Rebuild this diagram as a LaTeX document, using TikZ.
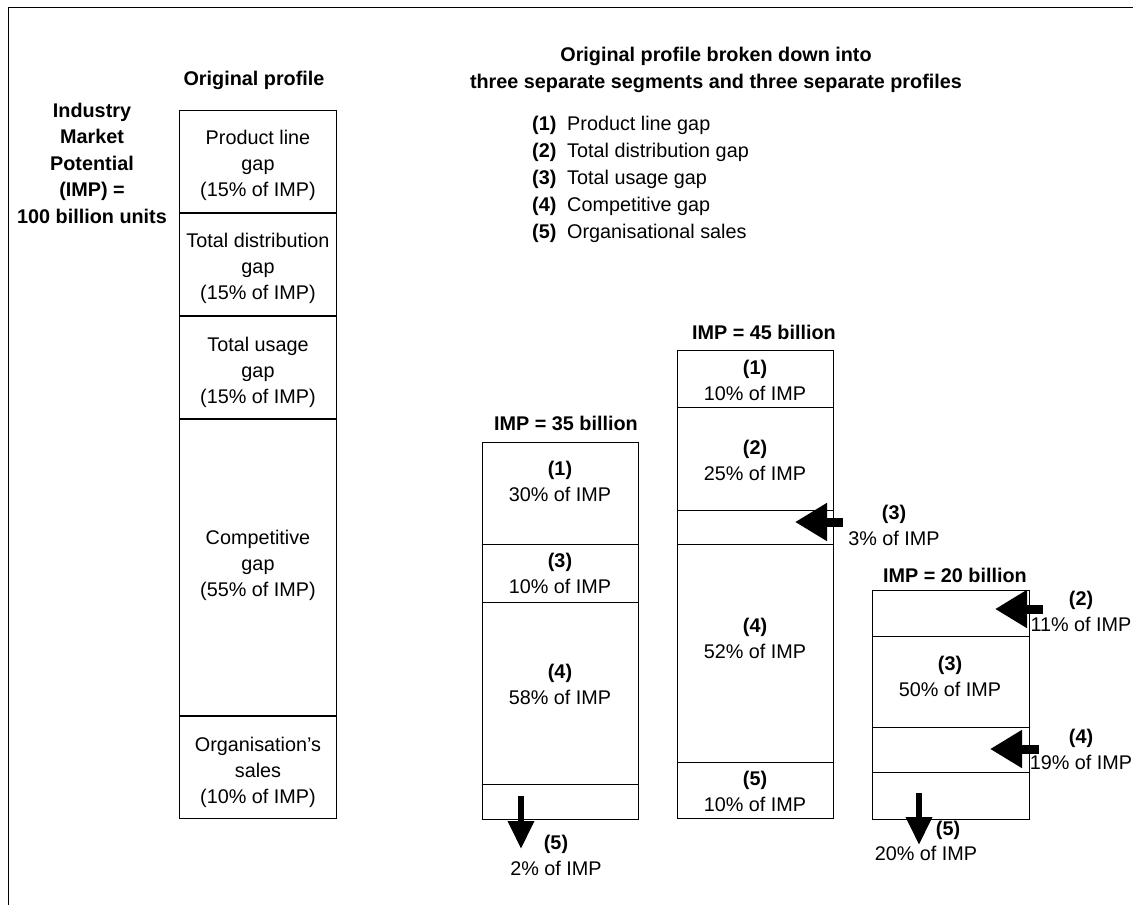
\documentclass[tikz,border=0pt]{standalone}
\usepackage{fontspec}
\setmainfont{Liberation Sans}
\usetikzlibrary{arrows.meta}
\tikzset{
    seg/.style={draw, line width=1pt},
    txt/.style={align=center, inner sep=0pt, font=\fontsize{19.8}{26}\selectfont},
    bold/.style={txt, font=\fontsize{19.8}{26.5}\selectfont\bfseries},
    sidearrow/.style={line width=9pt, -{Triangle[length=32pt 0 0,width=36pt 0 0]}},
    downarrow/.style={line width=6.5pt, -{Triangle[length=28pt 0 0,width=25pt 0 0]}}
}
\begin{document}
\begin{tikzpicture}[x=1pt, y=-1pt]
    \useasboundingbox (0,0) rectangle (1133,905);
    % Frame
    \draw[line width=1pt] (8,905) -- (8,7) -- (1133,7);

    % Headings
    \node[bold] (imptotal) at (92,163) {Industry\\Market\\Potential\\(IMP) =\\100 billion units};
    \node[bold] (orighead) at (254,80) {Original profile};
    \node[bold] (splithead) at (716,70) {Original profile broken down into\\three separate segments and three separate profiles};

    % Legend
    \foreach \n/\t [count=\i] in {1/Product line gap, 2/Total distribution gap, 3/Total usage gap, 4/Competitive gap, 5/Organisational sales} {
        \node[bold, anchor=west] (num\n) at (532,{98+27*\i}) {(\n)};
        \node[txt, anchor=west] (key\n) at (567,{98+27*\i}) {\t};
    }

    % Original profile
    \draw[seg] (179,110) rectangle (336,818);
    \foreach \y in {213,316,419,716} {
        \draw[line width=1.4pt] (179,\y) -- (336,\y);
    }
    \node[txt] (orig1) at (258,165) {Product line\\gap\\(15\% of IMP)};
    \node[txt] (orig2) at (258,268) {Total distribution\\gap\\(15\% of IMP)};
    \node[txt] (orig3) at (258,372) {Total usage\\gap\\(15\% of IMP)};
    \node[txt] (orig4) at (258,565) {Competitive\\gap\\(55\% of IMP)};
    \node[txt] (orig5) at (258,772) {Organisation’s\\sales\\(10\% of IMP)};

    % Segment A, IMP = 35 billion
    \node[bold] (headA) at (566,423) {IMP = 35 billion};
    \draw[seg] (482,442) rectangle (638,819);
    \foreach \y in {544,602,784} {
        \draw[seg] (482,\y) -- (638,\y);
    }
    \node[txt] (segA1) at (560,481) {\textbf{(1)}\\30\% of IMP};
    \node[txt] (segA3) at (560,573) {\textbf{(3)}\\10\% of IMP};
    \node[txt] (segA4) at (560,684) {\textbf{(4)}\\58\% of IMP};
    \coordinate (tailA5) at (521,796);
    \coordinate (tipA5) at (521,849);
    \draw[downarrow] (tailA5) -- (tipA5);
    \node[txt] (outA5) at (556,855) {\textbf{(5)}\\2\% of IMP};

    % Segment B, IMP = 45 billion
    \node[bold] (headB) at (764,332) {IMP = 45 billion};
    \draw[seg] (677,350) rectangle (833,818);
    \foreach \y in {407,510,544,762} {
        \draw[seg] (677,\y) -- (833,\y);
    }
    \node[txt] (segB1) at (755,380) {\textbf{(1)}\\10\% of IMP};
    \node[txt] (segB2) at (755,460) {\textbf{(2)}\\25\% of IMP};
    \node[txt] (segB4) at (755,638) {\textbf{(4)}\\52\% of IMP};
    \node[txt] (segB5) at (755,791) {\textbf{(5)}\\10\% of IMP};
    \coordinate (tailB3) at (843,522);
    \coordinate (tipB3) at (795,522);
    \draw[sidearrow] (tailB3) -- (tipB3);
    \node[txt] (outB3) at (894,525) {\textbf{(3)}\\3\% of IMP};

    % Segment C, IMP = 20 billion
    \node[bold] (headC) at (955,575) {IMP = 20 billion};
    \draw[seg] (872,590) rectangle (1029,819);
    \foreach \y in {636,727,772} {
        \draw[seg] (872,\y) -- (1029,\y);
    }
    \node[txt] (segC3) at (950,676) {\textbf{(3)}\\50\% of IMP};
    \coordinate (tailC2) at (1043,609);
    \coordinate (tipC2) at (995,609);
    \draw[sidearrow] (tailC2) -- (tipC2);
    \node[txt] (outC2) at (1081,611) {\textbf{(2)}\\11\% of IMP};
    \coordinate (tailC4) at (1039,749);
    \coordinate (tipC4) at (990,749);
    \draw[sidearrow] (tailC4) -- (tipC4);
    \node[txt] (outC4) at (1081,749) {\textbf{(4)}\\19\% of IMP};
    \coordinate (tailC5) at (919,793);
    \coordinate (tipC5) at (919,845);
    \draw[downarrow] (tailC5) -- (tipC5);
    \node[bold] (numC5) at (948,830) {(5)};
    \node[txt] (outC5) at (926,853) {20\% of IMP};
\end{tikzpicture}
\end{document}
